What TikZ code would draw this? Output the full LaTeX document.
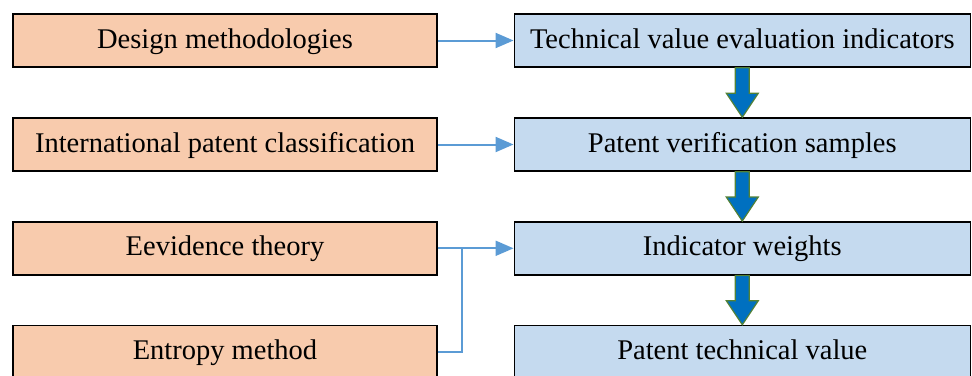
\documentclass[tikz,border=0pt]{standalone}
\usepackage{fontspec}
\setmainfont{Liberation Serif}
\usetikzlibrary{arrows.meta,calc}
\definecolor{peach}{HTML}{F8CBAD}
\definecolor{lblue}{HTML}{C5DAEF}
\definecolor{linkblue}{HTML}{5B9BD5}
\definecolor{darkblue}{HTML}{0070C0}
\definecolor{arrgreen}{HTML}{538135}
\begin{document}
\begin{tikzpicture}[x=1pt,y=-1pt,
  boxbase/.style={draw=black,line width=1.5pt,minimum height=53pt,inner sep=0pt,text height=21pt,text depth=6pt,font=\fontsize{28.5}{32}\selectfont},
  leftbox/.style={boxbase,fill=peach,minimum width=424pt},
  rightbox/.style={boxbase,fill=lblue,minimum width=456pt},
  link/.style={draw=linkblue,line width=2pt,-{Triangle[length=18pt,width=15pt]}},
  plain/.style={draw=linkblue,line width=2pt},
  blockarrow/.style={fill=darkblue,draw=arrgreen,line width=1.2pt,line join=miter}
]
\useasboundingbox (0,0) rectangle (972,375);
\node[leftbox] (l1) at (225,40.5) {Design methodologies};
\node[leftbox] (l2) at (225,144.5) {International patent classification};
\node[leftbox] (l3) at (225,248.3) {Eevidence theory};
\node[leftbox] (l4) at (225,352) {Entropy method};
\node[rightbox] (r1) at (742.3,40.5) {Technical value evaluation indicators};
\node[rightbox] (r2) at (742.3,144.5) {Patent verification samples};
\node[rightbox] (r3) at (742.3,248.3) {Indicator weights};
\node[rightbox] (r4) at (742.3,352) {Patent technical value};
\draw[link] (l1.east) -- (r1.west);
\draw[link] (l2.east) -- (r2.west);
\draw[link] (l3.east) -- (r3.west);
\coordinate (j) at (462,248.3);
\draw[plain] (l4.east) -| (j);
\foreach \a/\b in {r1/r2,r2/r3,r3/r4}{
  \draw[blockarrow] ($(\a.south)+(-7,0)$) -- ($(\a.south)+(7,0)$)
    -- ($(\b.north)+(7,-24)$) -- ($(\b.north)+(16,-24)$) -- (\b.north)
    -- ($(\b.north)+(-16,-24)$) -- ($(\b.north)+(-7,-24)$) -- cycle;
}
\end{tikzpicture}
\end{document}
